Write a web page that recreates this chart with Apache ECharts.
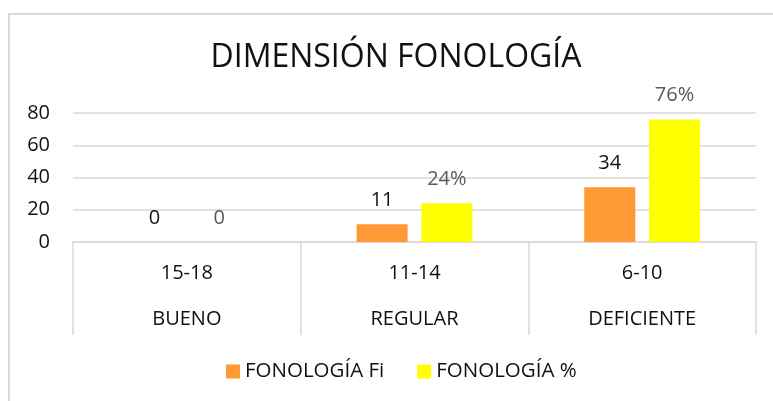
<!DOCTYPE html>
<html>
<head>
<meta charset="utf-8">
<script src="https://cdn.jsdelivr.net/npm/echarts@6/dist/echarts.min.js"></script>
<style>
html,body{margin:0;padding:0;background:#fff;}
#c{width:773px;height:401px;}
</style>
</head>
<body>
<div id="c"></div>
<script>
const categories = ['15-18', '11-14', '6-10'];
const levels = ['BUENO', 'REGULAR', 'DEFICIENTE'];
const fiValues = [0, 11, 34];
const pctValues = [0, 24, 76];
const pctLabels = ['0', '24%', '76%'];
const yTicks = [0, 20, 40, 60, 80];

const FONT = 'Open Sans';
const chart = echarts.init(document.getElementById('c'), null, {renderer: 'canvas'});
chart.setOption({
  animation: false,
  backgroundColor: '#fff',
  textStyle: {fontFamily: FONT},
  title: {
    text: 'DIMENSIÓN FONOLOGÍA',
    left: 391,
    textAlign: 'center',
    top: 37,
    textStyle: {fontFamily: FONT, fontSize: 32, fontWeight: 'normal', color: '#111'}
  },
  graphic: [{
    type: 'rect',
    shape: {x: 9, y: 14, width: 820, height: 440},
    style: {fill: 'none', stroke: '#d9d9d9', lineWidth: 2},
    silent: true
  }],
  legend: {
    left: 221,
    top: 356,
    itemWidth: 14,
    itemHeight: 14,
    itemGap: 33,
    icon: 'rect',
    textStyle: {fontFamily: FONT, fontSize: 20.5, color: '#111'},
    data: ['FONOLOGÍA Fi', 'FONOLOGÍA %']
  },
  grid: {left: 73, right: 17, top: 113, bottom: 159, containLabel: false},
  xAxis: {
    type: 'category',
    data: categories,
    axisLine: {show: true, lineStyle: {color: '#d9d9d9', width: 1.5}},
    axisTick: {show: true, length: 93, interval: 0, lineStyle: {color: '#d9d9d9', width: 1.5}},
    axisLabel: {
      interval: 0,
      margin: 8,
      fontFamily: FONT,
      fontSize: 20,
      color: '#111',
      lineHeight: 46,
      formatter: function (v, i) { return v + '\n' + levels[i]; }
    },
    splitLine: {show: false}
  },
  yAxis: {
    type: 'value',
    min: yTicks[0],
    max: yTicks[yTicks.length - 1],
    interval: 20,
    axisLine: {show: false},
    axisTick: {show: false},
    axisLabel: {margin: 23, fontFamily: FONT, fontSize: 20, color: '#111'},
    splitLine: {lineStyle: {color: '#d9d9d9', width: 1.5}}
  },
  series: [{
    name: 'FONOLOGÍA Fi',
    type: 'bar',
    data: fiValues,
    barWidth: 51,
    barGap: '27%',
    itemStyle: {color: '#ff9933'},
    label: {show: true, position: 'top', distance: 14, fontFamily: FONT, fontSize: 20, color: '#111'}
  }, {
    name: 'FONOLOGÍA %',
    type: 'bar',
    data: pctValues,
    barWidth: 51,
    barGap: '27%',
    itemStyle: {color: '#ffff00'},
    label: {
      show: true, position: 'top', distance: 14, fontFamily: FONT, fontSize: 20, color: '#595959',
      formatter: function (p) { return pctLabels[p.dataIndex]; }
    }
  }]
});
</script>
</body>
</html>
